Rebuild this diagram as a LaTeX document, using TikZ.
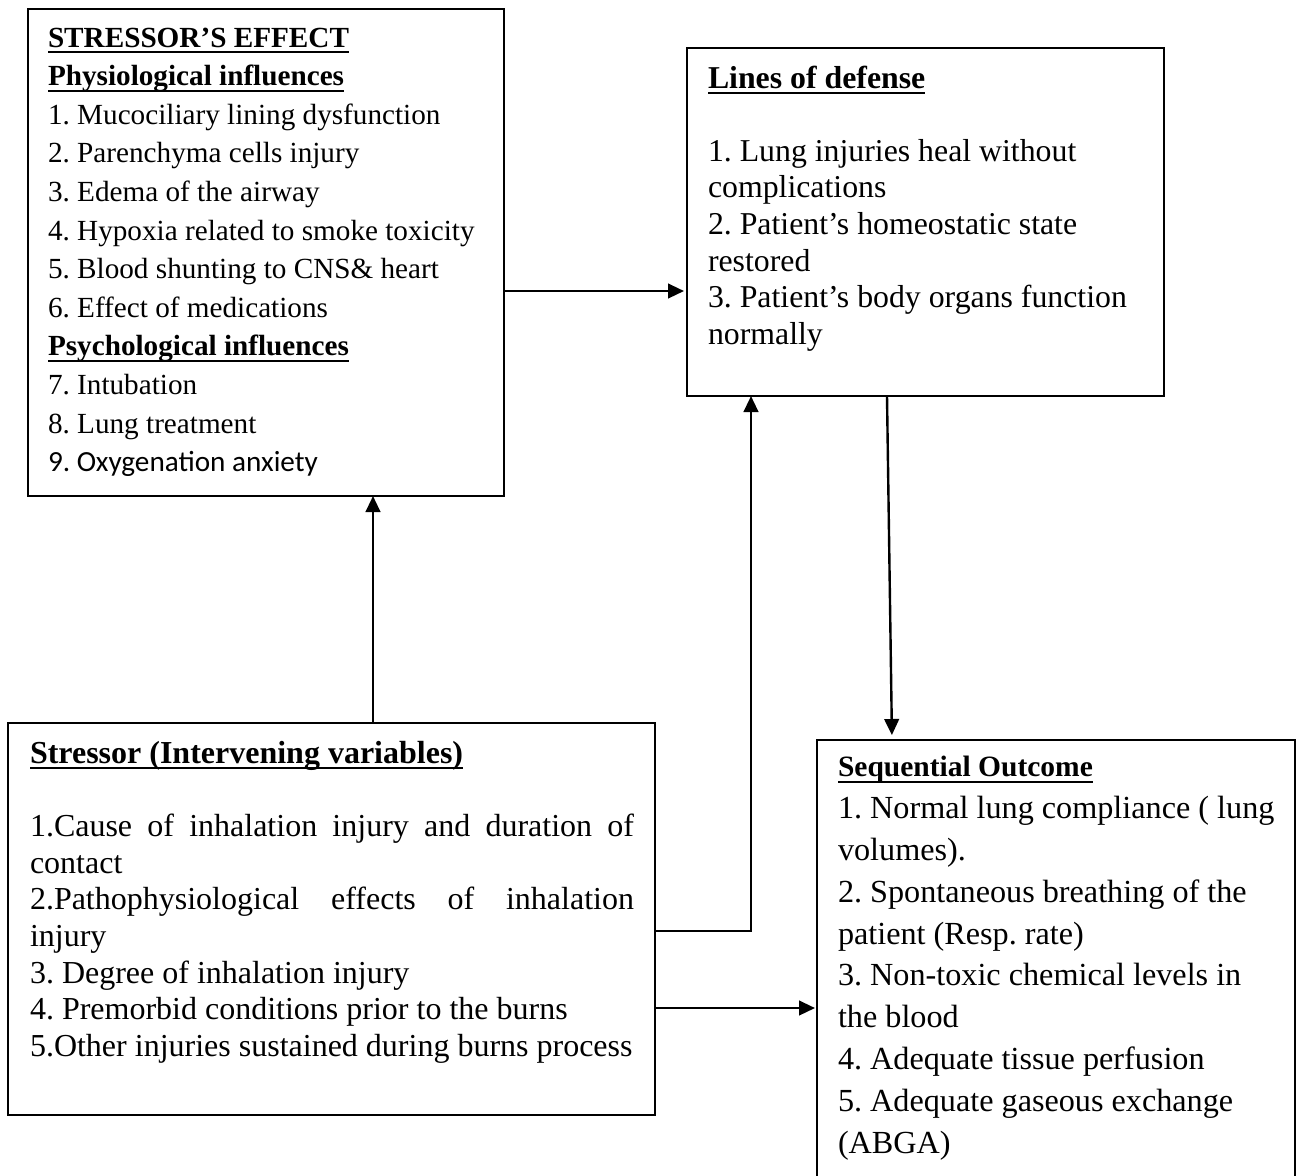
\documentclass[tikz,border=0pt]{standalone}
\usepackage{fontspec}
\setmainfont{Liberation Serif}
\newfontfamily\calibrifont{Carlito}
\usetikzlibrary{positioning,calc,arrows.meta}
\frenchspacing

% bold heading with a fixed underline
\newsavebox{\hdbox}
\newcommand{\hd}[1]{\sbox{\hdbox}{\textbf{#1}}\rlap{\rule[-3pt]{\wd\hdbox}{0.85pt}}\usebox{\hdbox}}

\begin{document}
\begin{tikzpicture}[
        x=0.5pt, y=-0.5pt,
        box/.style={rectangle, draw, line width=0.8pt, anchor=north west, inner sep=0pt, outer sep=0pt},
        txt/.style={anchor=north west, inner sep=0pt, outer sep=0pt, align=left},
        arrow/.style={-{Triangle[length=8pt,width=7.3pt]}, line width=1.2pt}
    ]
        \useasboundingbox (0,0) rectangle (1301,1175);
        \clip (0,0) rectangle (1301,1175);

        % Boxes
        \node[box, minimum width=238pt, minimum height=243.5pt] (effect) at (28,9) {};
        \node[box, minimum width=238.5pt, minimum height=174pt] (defense) at (687,48) {};
        \node[box, minimum width=323.5pt, minimum height=196pt] (interv) at (8,723) {};
        \node[box, minimum width=239pt, minimum height=230pt] (outcome) at (817,740) {};

        % Stressor's effect
        \node[txt, font={\fontsize{14.6}{19.3}\selectfont}, below right=5.5pt and 10pt of effect.north west] (effecttxt) {%
            \strut\hd{STRESSOR’S EFFECT}\\
            \strut\hd{Physiological influences}\\
            \strut 1. Mucociliary lining dysfunction\\
            \strut 2. Parenchyma cells injury\\
            \strut 3. Edema of the airway\\
            \strut 4. Hypoxia related to smoke toxicity\\
            \strut 5. Blood shunting to CNS\& heart\\
            \strut 6. Effect of medications\\
            \strut\hd{Psychological influences}\\
            \strut 7. Intubation\\
            \strut 8. Lung treatment\\
            \strut{\calibrifont 9. Oxygenation anxiety}};

        % Lines of defense
        \node[txt, font={\fontsize{15.9}{18.3}\selectfont}, below right=7.2pt and 10.5pt of defense.north west] (defensetxt) {%
            \strut\hd{Lines of defense}\\
            \strut\\
            \strut 1. Lung injuries heal without\\
            \strut complications\\
            \strut 2. Patient’s homeostatic state\\
            \strut restored\\
            \strut 3. Patient’s body organs function\\
            \strut normally};

        % Intervening variables
        \node[txt, font={\fontsize{16}{18.35}\selectfont}, below right=7.15pt and 11pt of interv.north west] (intervtxt) {%
            \strut\hd{Stressor (Intervening variables)}\\
            \strut\\
            \strut\makebox[302pt][s]{1.Cause of inhalation injury and duration of}\\
            \strut contact\\
            \strut\makebox[302pt][s]{2.Pathophysiological effects of inhalation}\\
            \strut injury\\
            \strut 3. Degree of inhalation injury\\
            \strut 4. Premorbid conditions prior to the burns\\
            \strut 5.Other injuries sustained during burns process};

        % Sequential outcome
        \node[txt, font={\fontsize{16.1}{20.9}\selectfont}, below right=3.85pt and 10.5pt of outcome.north west] (outcometxt) {%
            \strut{\fontsize{14.75}{20.9}\selectfont\hd{Sequential Outcome}}\\
            \strut 1. Normal lung compliance ( lung\\
            \strut volumes).\\
            \strut 2. Spontaneous breathing of the\\
            \strut patient (Resp. rate)\\
            \strut 3. Non-toxic chemical levels in\\
            \strut the blood\\
            \strut 4. Adequate tissue perfusion\\
            \strut 5. Adequate gaseous exchange\\
            \strut (ABGA)};

        % Arrows
        \coordinate (upA) at ($(interv.north west)+(365,0)$);
        \draw[arrow] (upA) -- (upA |- effect.south);

        \coordinate (outA) at ($(effect.north east)+(0,282)$);
        \draw[arrow, shorten >=1.5pt] (outA) -- (outA -| defense.west);

        \coordinate (outC1) at ($(interv.north east)+(0,208)$);
        \coordinate (inB) at ($(defense.south west)+(64,0)$);
        \draw[arrow] (outC1) -| (inB);

        \coordinate (outB) at ($(defense.south west)+(200,0)$);
        \coordinate (inD) at ($(outcome.north west)+(75,0)$);
        \draw[arrow, shorten >=2.5pt] (outB) -- (inD);

        \coordinate (outC2) at ($(interv.north east)+(0,285)$);
        \draw[arrow, shorten >=1pt] (outC2) -- (outC2 -| outcome.west);
    \end{tikzpicture}
\end{document}
